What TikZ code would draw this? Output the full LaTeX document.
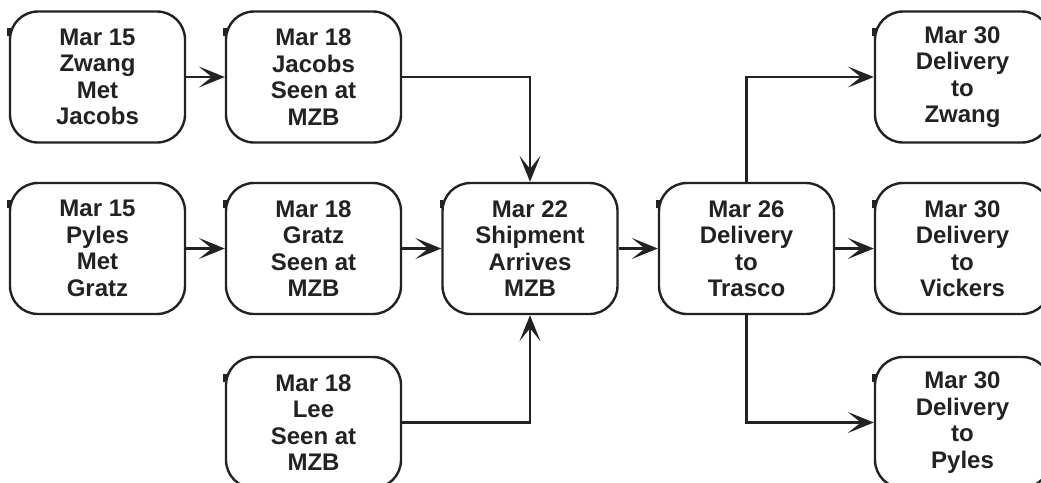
\documentclass[tikz,border=0pt]{standalone}
\usepackage{fontspec}
\setmainfont{Liberation Sans}
\usetikzlibrary{arrows.meta}
\definecolor{ink}{HTML}{222222}
\tikzset{
  box/.style={draw=ink, text=ink, line width=2.4pt, rounded corners=28pt, minimum width=175pt,
    minimum height=131pt, align=center, inner sep=0pt,
    font=\fontsize{24}{26.5}\selectfont\bfseries},
  conn/.style={draw=ink, line width=2.4pt, arrows={-{Stealth[length=26pt,width=21pt,inset=13pt]}}},
  tick/.style={draw=ink, line width=3.5pt}
}
\begin{document}
\begin{tikzpicture}[x=1pt,y=-1pt]
\useasboundingbox (0,0) rectangle (1041,482);
\clip (0,0) rectangle (1041,482);
\node[box] (zm) at (97.5,77) {Mar 15\\Zwang\\Met\\Jacobs};
\node[box] (js) at (313.5,77) {Mar 18\\Jacobs\\Seen at\\MZB};
\node[box] (pm) at (97.5,248.5) {Mar 15\\Pyles\\Met\\Gratz};
\node[box] (gs) at (313.5,248.5) {Mar 18\\Gratz\\Seen at\\MZB};
\node[box] (ls) at (313.5,422.5) {Mar 18\\Lee\\Seen at\\MZB};
\node[box] (sh) at (530,248.5) {Mar 22\\Shipment\\Arrives\\MZB};
\node[box] (tr) at (746.5,248.5) {Mar 26\\Delivery\\to\\Trasco};
\node[box] (dz) at (962.5,77) {Mar 30\\Delivery\\to\\Zwang};
\node[box] (dv) at (962.5,248.5) {Mar 30\\Delivery\\to\\Vickers};
\node[box] (dp) at (962.5,422.5) {Mar 30\\Delivery\\to\\Pyles};
\foreach \n in {zm,js,pm,gs,ls,sh,tr,dz,dv,dp}
  \draw[tick] ([yshift=-18pt]\n.north west) -- ([yshift=-26pt]\n.north west);
\draw[conn] (zm) -- (js);
\draw[conn] (js.east) -| (sh.north);
\draw[conn] (pm) -- (gs);
\draw[conn] (gs) -- (sh);
\draw[conn] (ls.east) -| (sh.south);
\draw[conn] (sh) -- (tr);
\draw[conn] (tr.north) |- (dz.west);
\draw[conn] (tr) -- (dv);
\draw[conn] (tr.south) |- (dp.west);
\end{tikzpicture}
\end{document}
